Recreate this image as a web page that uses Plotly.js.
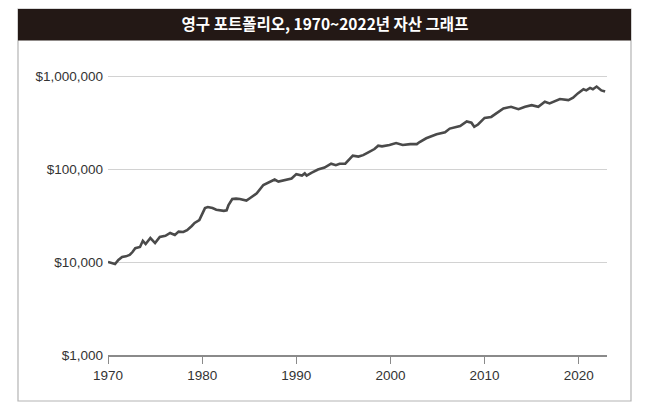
<!DOCTYPE html>
<html>
<head>
<meta charset="utf-8">
<script src="https://cdn.plot.ly/plotly-3.0.1.min.js"></script>
<style>
html,body{margin:0;padding:0;background:#fff;}
#chart{width:650px;height:413px;}
</style>
</head>
<body>
<div id="chart"></div>
<script>
const chartTitle = '영구 포트폴리오, 1970~2022년 자산 그래프';

const years = [
  1970.0,1970.4,1970.75,1971.1,1971.5,1971.9,1972.3,1972.6,1972.9,1973.4,
  1973.7,1974.0,1974.5,1975.0,1975.5,1976.1,1976.6,1977.1,1977.5,1978.0,
  1978.4,1978.9,1979.2,1979.7,1980.1,1980.3,1980.6,1981.1,1981.5,1981.9,
  1982.3,1982.6,1982.8,1983.2,1983.6,1984.0,1984.7,1985.1,1985.8,1986.5,
  1987.0,1987.7,1988.1,1989.0,1989.5,1990.0,1990.6,1990.9,1991.1,1991.6,
  1992.3,1993.0,1993.7,1994.2,1994.6,1995.2,1996.0,1996.6,1997.1,1997.6,
  1998.3,1998.7,1999.1,1999.9,2000.6,2001.3,2002.1,2002.8,2003.1,2003.8,
  2004.5,2004.9,2005.8,2006.3,2007.4,2008.1,2008.6,2008.9,2009.3,2010.0,
  2010.7,2011.4,2012.0,2012.8,2013.6,2014.3,2015.0,2015.7,2016.4,2016.9,
  2018.0,2018.9,2019.4,2019.9,2020.5,2020.8,2021.2,2021.5,2021.9,2022.4,
  2022.8
];
const values = [
  10000,9800,9500,10500,11300,11500,11900,12800,14100,14500,
  16900,15600,18100,16000,18600,19100,20500,19500,21200,21000,
  22000,24400,26300,28300,33600,38000,39000,38000,36500,36000,
  35500,36000,41000,47500,48000,47500,45700,48800,54700,67300,
  71300,77000,73300,76000,79000,88000,84900,89700,85000,91000,
  98700,103500,114000,110000,114000,114000,139000,136000,141000,150000,
  164000,178000,175000,181000,190000,181000,185000,185000,195000,214000,
  228000,236000,248000,272000,290000,325000,315000,284000,301000,354000,
  363000,405000,448000,466000,440000,466000,486000,466000,528000,507000,
  565000,551000,584000,650000,720000,700000,745000,720000,770000,700000,
  680000
];

const xTickVals = [1970,1980,1990,2000,2010,2020];
const xTickText = ['1970','1980','1990','2000','2010','2020'];
const yTickVals = [1000,10000,100000,1000000];
const yTickText = ['$1,000','$10,000','$100,000','$1,000,000'];

// plot-area geometry (px) for paper-coordinate conversion of decorations
const W = 650, H = 413;
const mL = 108, mR = 43, mT = 60, mB = 58;
const pw = W - mL - mR, ph = H - mT - mB;
const px = v => (v - mL) / pw;
const py = v => (H - mB - v) / ph;

const trace = {
  x: years, y: values, type: 'scatter', mode: 'lines',
  line: {color: '#4a4a4a', width: 2.6},
  hoverinfo: 'skip'
};

const layout = {
  width: W, height: H,
  margin: {l: mL, r: mR, t: mT, b: mB, pad: 0},
  paper_bgcolor: '#ffffff', plot_bgcolor: '#ffffff',
  showlegend: false,
  title: {
    text: chartTitle,
    font: {family: '"Noto Sans CJK KR", sans-serif', size: 15.5, color: '#ffffff', weight: 'bold'},
    x: 0.5, xref: 'container', xanchor: 'center',
    y: 1 - 24.5 / H, yref: 'container', yanchor: 'middle'
  },
  xaxis: {
    type: 'linear', range: [1970, 2023],
    tickvals: xTickVals, ticktext: xTickText,
    ticks: 'outside', ticklen: 7, tickwidth: 1, tickcolor: '#8a8a8a',
    showline: true, linecolor: '#8a8a8a', linewidth: 1.5,
    showgrid: false, zeroline: false,
    tickfont: {family: '"Liberation Sans", Arial, sans-serif', size: 13.5, color: '#333333'},
    fixedrange: true
  },
  yaxis: {
    type: 'log', range: [3, 3 + ph / 93],
    tickvals: yTickVals, ticktext: yTickText,
    ticks: '', showline: false,
    showgrid: true, gridcolor: '#d2d2d2', gridwidth: 1,
    zeroline: false,
    ticklabelstandoff: 4,
    tickfont: {family: '"Liberation Sans", Arial, sans-serif', size: 13.5, color: '#333333'},
    fixedrange: true
  },
  shapes: [
    {type: 'rect', xref: 'paper', yref: 'paper', layer: 'below',
     x0: px(18), x1: px(631), y0: py(401), y1: py(9),
     line: {color: '#b4b4b4', width: 1.2}, fillcolor: 'rgba(0,0,0,0)'},
    {type: 'rect', xref: 'paper', yref: 'paper', layer: 'below',
     x0: px(18), x1: px(631), y0: py(40.5), y1: py(9),
     line: {width: 0}, fillcolor: '#231815'}
  ]
};

Plotly.newPlot('chart', [trace], layout, {displayModeBar: false, staticPlot: true});
</script>
</body>
</html>
